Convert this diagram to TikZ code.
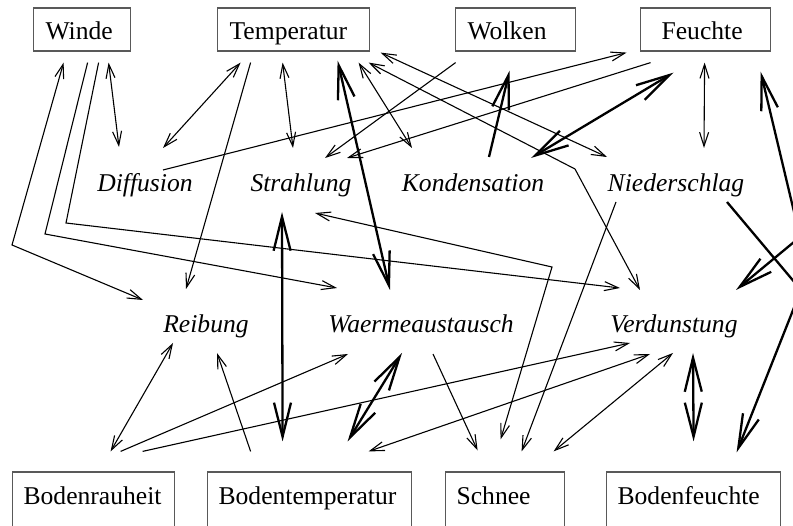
\documentclass[tikz,border=0pt]{standalone}
\usepackage{fontspec}
\setmainfont{Liberation Serif}
\usetikzlibrary{arrows.meta,calc}

\begin{document}
\begin{tikzpicture}[x=1pt, y=-1pt,
    font=\fontsize{25.6}{30}\selectfont,
    >={Straight Barb[length=14pt,width=9pt]},
    duenn/.style={line width=1.1pt},
    dick/.style={line width=2.3pt, >={Straight Barb[length=34pt,width=17pt]}},
    kasten/.style={draw=black!65, line width=1.2pt, anchor=base west, align=left,
      inner xsep=12pt, inner ysep=0pt, text height=32pt, text depth=11pt},
    unten/.style={kasten, inner xsep=11pt, text height=33pt, text depth=40pt},
    vorgang/.style={anchor=base, inner sep=0pt, font=\fontsize{25.6}{30}\selectfont\itshape}]
  \useasboundingbox (0,0) rectangle (793,526);
  \clip (0,0) rectangle (793,526);

  % Groessen oben
  \node[kasten, text width=73pt] (winde) at (33,40) {Winde};
  \node[kasten, text width=128pt] (temp) at (217,40) {Temperatur};
  \node[kasten, text width=96pt] (wolken) at (455,40) {Wolken};
  \node[kasten, inner xsep=21pt, text width=88pt] (feuchte) at (640,40) {Feuchte};

  % Vorgaenge
  \node[vorgang] (diffusion) at (145,192) {Diffusion};
  \node[vorgang] (strahlung) at (301,192) {Strahlung};
  \node[vorgang] (kondensation) at (473,192) {Kondensation};
  \node[vorgang] (niederschlag) at (676,192) {Niederschlag};
  \node[vorgang] (reibung) at (206,333) {Reibung};
  \node[vorgang] (waerme) at (421,333) {Waermeaustausch};
  \node[vorgang] (verdunstung) at (674,333) {Verdunstung};

  % Boden
  \node[unten, text width=140pt] (rauheit) at (12,505) {Bodenrauheit};
  \node[unten, text width=182pt] (bodentemp) at (207,505) {Bodentemperatur};
  \node[unten, text width=97pt] (schnee) at (445,505) {Schnee};
  \node[unten, text width=152pt] (bodenfeuchte) at (606,505) {Bodenfeuchte};

  % Winde
  \draw[duenn,<->] ($(winde.south)+(-18.5,11)$) -- (12,245) -- ($(reibung.base)+(-63,-33)$);
  \draw[duenn,->] ($(winde.south)+(5.5,11)$) -- (45,234) -- ($(waerme.base)+(-84,-45)$);
  \draw[duenn,->] ($(winde.south)+(16.5,11)$) -- (66,223) -- ($(verdunstung.base)+(-54,-45)$);
  \draw[duenn,<->] ($(winde.south)+(26.5,11)$) -- ($(diffusion.base)+(-26,-45)$);

  % Temperatur
  \draw[duenn,<->] ($(temp.south)+(-53,11)$) -- ($(diffusion.base)+(18,-44)$);
  \draw[duenn,->] ($(temp.south)+(-43,11)$) -- ($(reibung.base)+(-20,-44)$);
  \draw[duenn,<->] ($(temp.south)+(-11,11)$) -- ($(strahlung.base)+(-8,-44)$);
  \draw[dick,<->] ($(temp.south)+(44,9)$) -- ($(waerme.base)+(-31,-43)$);
  \draw[duenn,<->] ($(temp.south)+(65,11)$) -- ($(kondensation.base)+(-61,-44)$);
  \draw[duenn,<->] ($(temp.south)+(75,11)$) -- (575,169) -- ($(verdunstung.base)+(-34,-43)$);
  \draw[duenn,<->] ($(temp.south)+(87,1)$) -- ($(niederschlag.base)+(-69,-35)$);

  % Wolken und Feuchte
  \draw[duenn,->] ($(wolken.south)+(-60,11)$) -- ($(strahlung.base)+(24,-34)$);
  \draw[duenn,->] ($(feuchte.south)+(-55,11)$) -- ($(strahlung.base)+(46,-34)$);
  \draw[duenn,->] ($(diffusion.base)+(18,-22)$) -- ($(feuchte.south)+(-79,1)$);
  \draw[dick,->] ($(kondensation.base)+(16,-35)$) -- ($(wolken.south)+(-6,19)$);
  \draw[dick,<->] ($(feuchte.south)+(-32,21)$) -- ($(kondensation.base)+(58,-34)$);
  \draw[duenn,<->] ($(feuchte.south)+(-1,11)$) -- ($(niederschlag.base)+(28,-44)$);
  \draw[dick,<->] ($(feuchte.south)+(55,20)$) -- (800,237) -- ($(verdunstung.base)+(62,-43)$);

  % Niederschlag und Strahlung
  \draw[dick,->] ($(niederschlag.base)+(51,10)$) -- (801,290) -- ($(bodenfeuchte.north)+(43,-19)$);
  \draw[duenn,->] ($(niederschlag.base)+(-60,10)$) -- ($(schnee.north)+(16.5,-20)$);
  \draw[dick,<->] ($(strahlung.base)+(-19,20)$) -- ($(bodentemp.north)+(-27,-30)$);
  \draw[duenn,<->] ($(strahlung.base)+(14,21)$) -- (552,267) -- ($(schnee.north)+(-4.5,-32)$);

  % Waermeaustausch
  \draw[duenn,->] ($(waerme.base)+(12,21)$) -- ($(schnee.north)+(-27.5,-21)$);
  \draw[dick,<->] ($(waerme.base)+(-19,20)$) -- ($(bodentemp.north)+(38,-30)$);

  % Boden
  \draw[duenn,->] ($(rauheit.north)+(27,-20)$) -- ($(waerme.base)+(-73,21)$);
  \draw[duenn,->] ($(rauheit.north)+(49,-20)$) -- ($(verdunstung.base)+(-44,10)$);
  \draw[duenn,<->] ($(bodentemp.north)+(59,-20)$) -- ($(verdunstung.base)+(-24,21)$);
  \draw[duenn,<->] ($(schnee.north)+(48.5,-20)$) -- ($(verdunstung.base)+(-1,20)$);
  \draw[dick,<->] ($(verdunstung.base)+(19,20)$) -- ($(bodenfeuchte.north)+(0,-30)$);
  \draw[duenn,<->] ($(reibung.base)+(-33,10)$) -- ($(rauheit.north)+(17,-20)$);
  \draw[duenn,->] ($(bodentemp.north)+(-59,-20)$) -- ($(reibung.base)+(11,20)$);
\end{tikzpicture}
\end{document}
